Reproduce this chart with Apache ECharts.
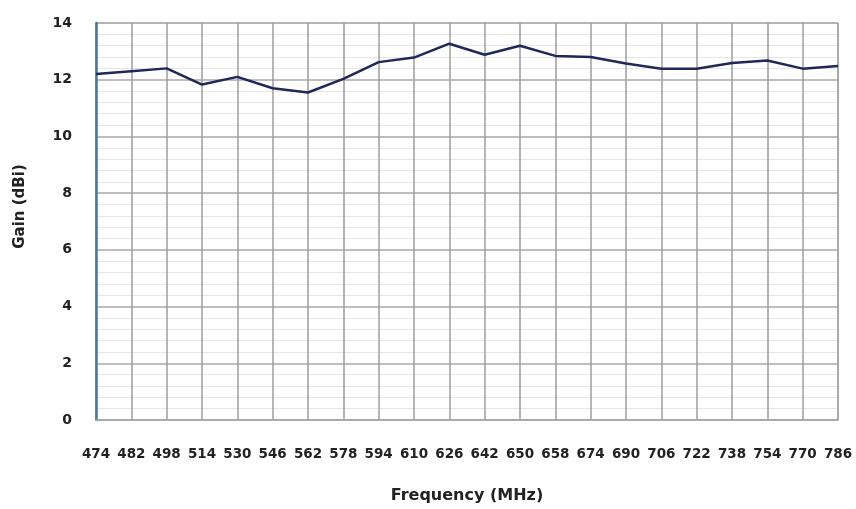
<!DOCTYPE html>
<html><head><meta charset="utf-8">
<script src="https://cdn.jsdelivr.net/npm/echarts@6/dist/echarts.min.js"></script>
<style>html,body{margin:0;padding:0;background:#fff}#c{width:856px;height:509px}</style>
</head><body><div id="c"></div>
<script>
const frequencies = ['474','482','498','514','530','546','562','578','594','610','626','642','650','658','674','690','706','722','738','754','770','786'];
const gain = [12.2,12.3,12.4,11.83,12.1,11.7,11.55,12.03,12.62,12.78,13.27,12.88,13.2,12.84,12.8,12.57,12.39,12.39,12.59,12.68,12.39,12.48];
const yTicks = [0,2,4,6,8,10,12,14];

const chart = echarts.init(document.getElementById('c'));
const font = '"DejaVu Sans", "Open Sans", sans-serif';
chart.setOption({
  animation:false,
  grid:{left:96,right:18,top:23,bottom:82,show:true,borderColor:'#a8a8a8',borderWidth:1},
  xAxis:{
    type:'category',data:frequencies,boundaryGap:false,
    name:'Frequency (MHz)',nameLocation:'middle',nameGap:68,
    nameTextStyle:{fontFamily:font,fontWeight:'bold',fontSize:16,color:'#222'},
    axisLine:{lineStyle:{color:'#a8a8a8',width:1.5}},
    axisTick:{show:false},
    axisLabel:{interval:0,margin:27,fontFamily:font,fontWeight:'bold',fontSize:13.5,color:'#222'},
    splitLine:{show:true,lineStyle:{color:'#9c9c9c',width:1.5}}
  },
  yAxis:{
    type:'value',min:0,max:14,interval:2,
    name:'Gain (dBi)',nameLocation:'middle',nameGap:68,nameRotate:90,
    nameTextStyle:{fontFamily:font,fontWeight:'bold',fontSize:15,color:'#222',padding:[0,0,0,30]},
    axisLine:{show:true,lineStyle:{color:'#4a7a92',width:2.5}},
    axisTick:{show:false},
    axisLabel:{margin:24,fontFamily:font,fontWeight:'bold',fontSize:14,color:'#222',
      formatter:v=>yTicks.includes(v)?String(v):''},
    splitLine:{show:true,lineStyle:{color:'#a8a8a8',width:1.5}},
    minorTick:{show:false,splitNumber:5},
    minorSplitLine:{show:true,lineStyle:{color:'#e6e6e6',width:1}}
  },
  series:[{
    type:'line',data:gain,symbol:'none',
    lineStyle:{color:'#1f2857',width:2.5}
  }]
});
</script></body></html>
